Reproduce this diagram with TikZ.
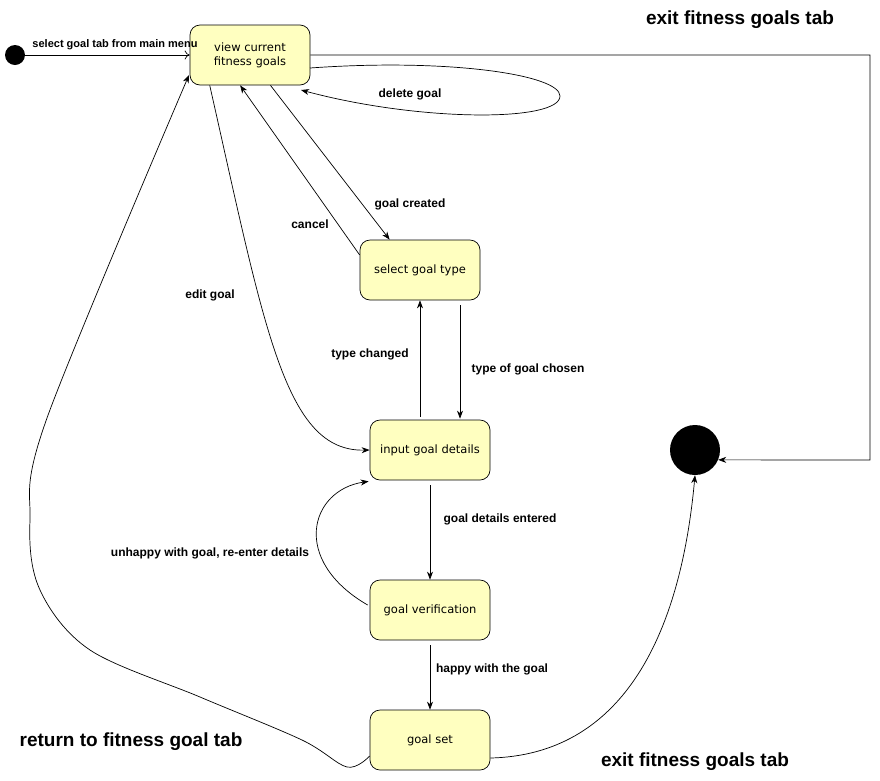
\documentclass[tikz,border=0pt]{standalone}
\usepackage{fontspec}
\setmainfont{Liberation Sans}
\newfontfamily\nodefam{DejaVu Sans}
\usetikzlibrary{arrows.meta,calc}
\definecolor{yfill}{HTML}{FFFFC0}
\begin{document}
\begin{tikzpicture}[x=1pt,y=-1pt,
  statebox/.style={draw, fill=yfill, line width=0.7pt, rounded corners=10pt, minimum width=120pt, minimum height=60pt, align=center, inner sep=2pt, font=\nodefam\fontsize{11.5}{14}\selectfont},
  conn/.style={line width=0.7pt, -{Stealth[length=8pt,width=6pt,inset=2.5pt]}},
  openconn/.style={line width=0.7pt, -{To[length=5pt,width=9pt]}},
  lbl/.style={font=\bfseries\fontsize{12}{14}\selectfont, inner sep=1pt},
  biglbl/.style={font=\bfseries\fontsize{19}{22}\selectfont, inner sep=1pt},
  smalllbl/.style={font=\bfseries\fontsize{11}{13}\selectfont, inner sep=1pt}]
\useasboundingbox (0,0) rectangle (880,780);

% nodes
\node[circle, fill=black, minimum size=20pt, inner sep=0pt] (start) at (15,55) {};
\node[circle, fill=black, minimum size=50pt, inner sep=0pt] (end) at (695,450) {};
\node[statebox] (view) at (250,55) {view current\\fitness goals};
\node[statebox] (sel) at (420,270) {select goal type};
\node[statebox] (inp) at (430,450) {input goal details};
\node[statebox] (ver) at (430,610) {goal verification};
\node[statebox] (gset) at (430,740) {goal set};

% helper coordinates
\coordinate (c1) at (870,55);
\coordinate (c2) at (870,460);
\coordinate (d1) at (310,68);
\coordinate (d2) at (301,90);
\coordinate (r1) at (347,767);
\coordinate (r2) at (302,740);
\coordinate (r3) at (200,697);
\coordinate (r4) at (90,650);
\coordinate (r5) at (40,590);
\coordinate (r6) at (30,520);
\coordinate (r6b) at (47,418);
\coordinate (r7) at (189,75);

% edges
\draw[openconn] (start) -- (view.west);
\draw[conn] (view.east) -- (c1) -- (c2) -- (end.-23);
\draw[conn] (d1) .. controls (450,58) and (560,75) .. (560,96) .. controls (560,122) and (420,122) .. (d2);
\draw[conn] (view.-56) -- (sel.135);
\draw[conn] (sel.166) -- (view.-108);
\draw[conn] (view.-143) .. controls (265,330) and (285,452) .. (inp.west);
\draw[conn] ($(sel.south)+(40,5)$) -- ($(inp.north)+(30,-1)$);
\draw[conn] ($(inp.north)+(-10,-3)$) -- (sel.south);
\draw[conn] ($(inp.south)+(0,5)$) -- (ver.north);
\draw[conn] ($(ver.south)+(0,5)$) -- (gset.north);
\draw[conn] ($(ver.west)+(-2,-5)$) .. controls (290,560) and (310,490) .. ($(inp.south west)+(-1,1)$);
\draw[conn] plot[smooth, tension=0.55] coordinates {($(gset.west)+(0,16)$) (r1) (r2) (r3) (r4) (r5) (r6) (r6b) (r7)};
\draw[conn] ($(gset.east)+(0,18)$) .. controls (620,755) and (680,640) .. (end.south);

% labels
\node[smalllbl] (l1) at (115,45) {select goal tab from main menu};
\node[biglbl] (l2) at (740,20) {exit fitness goals tab};
\node[lbl] (l3) at (410,94) {delete goal};
\node[lbl] (l4) at (410,204) {goal created};
\node[lbl] (l5) at (310,224) {cancel};
\node[lbl] (l6) at (210,295) {edit goal};
\node[lbl] (l7) at (370,354) {type changed};
\node[lbl] (l8) at (528,369) {type of goal chosen};
\node[lbl] (l9) at (500,519) {goal details entered};
\node[lbl] (l10) at (210,553) {unhappy with goal, re-enter details};
\node[lbl] (l11) at (492,669) {happy with the goal};
\node[biglbl] (l12) at (131,742) {return to fitness goal tab};
\node[biglbl] (l13) at (695,762) {exit fitness goals tab};
\end{tikzpicture}
\end{document}
